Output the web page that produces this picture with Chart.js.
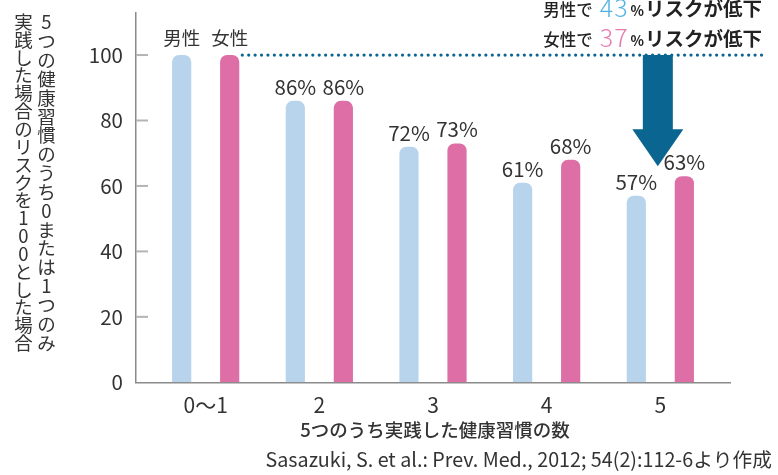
<!DOCTYPE html>
<html lang="ja">
<head>
<meta charset="utf-8">
<title>健康習慣の数とリスク</title>
<script src="https://cdn.jsdelivr.net/npm/chart.js@4/dist/chart.umd.min.js"></script>
<style>
  html, body { margin: 0; padding: 0; background: #fff; }
  #wrap { width: 778px; height: 475px; position: relative; }
</style>
</head>
<body>
<div id="wrap"><canvas id="myChart"></canvas></div>
<script>
/* chart data */
const categories = ['0〜1', '2', '3', '4', '5'];
const seriesNames = ['男性', '女性'];
const menValues = [100, 86, 72, 61, 57];
const womenValues = [100, 86, 73, 68, 63];
const yTicks = [0, 20, 40, 60, 80, 100];

/* texts */
const xTitle = '5つのうち実践した健康習慣の数';
const yTitleLines = ['5つの健康習慣のうち0または1つのみ', '実践した場合のリスクを100とした場合'];
const sourceText = 'Sasazuki, S. et al.: Prev. Med., 2012; 54(2):112-6より作成';

/* arrow goes from the baseline level (100) down to this value */
const ARROW_TIP = 66;

const FONT = '"Noto Sans CJK JP", "Noto Sans", sans-serif';
const TEXT = '#333333';
const MEN_COLOR = '#b8d4ed';
const WOMEN_COLOR = '#dd6fa6';
const ARROW_COLOR = '#0b6591';

function font(size, weight) {
  return (weight || 400) + ' ' + size + 'px ' + FONT;
}

/* short gray ticks drawn inside the plot, on the y axis */
const innerTicks = {
  id: 'innerTicks',
  beforeDatasetsDraw(chart) {
    const c = chart.ctx;
    const y = chart.scales.y;
    const left = chart.chartArea.left;
    c.save();
    c.strokeStyle = '#b4b4b4';
    c.lineWidth = 2;
    yTicks.forEach(function(v) {
      if (v === 0) return;
      const py = y.getPixelForValue(v);
      c.beginPath();
      c.moveTo(left, py);
      c.lineTo(left + 12, py);
      c.stroke();
    });
    c.restore();
  }
};

/* value labels, dotted reference line, arrow and all the extra texts */
const extras = {
  id: 'extras',
  afterDatasetsDraw(chart) {
    const c = chart.ctx;
    const xs = chart.scales.x;
    const ys = chart.scales.y;
    const lists = [menValues, womenValues];
    c.save();
    c.fillStyle = TEXT;
    c.textAlign = 'center';
    c.textBaseline = 'alphabetic';

    /* labels over bars: series name on the first group, percent elsewhere */
    lists.forEach(function(list, d) {
      const meta = chart.getDatasetMeta(d);
      list.forEach(function(v, i) {
        const bar = meta.data[i];
        if (i === 0) {
          c.font = font(18.5);
          c.fillText(seriesNames[d], bar.x, bar.y - 10);
        } else {
          c.font = font(20.5);
          c.fillText(v + '%', bar.x, bar.y - 6);
        }
      });
    });

    /* dotted line at 100 */
    const firstWomen = chart.getDatasetMeta(1).data[0];
    const y100 = ys.getPixelForValue(100);
    c.strokeStyle = ARROW_COLOR;
    c.lineWidth = 3.2;
    c.lineCap = 'round';
    c.setLineDash([0.01, 6.4]);
    c.beginPath();
    c.moveTo(firstWomen.x + firstWomen.width / 2 + 3, y100);
    c.lineTo(762, y100);
    c.stroke();
    c.setLineDash([]);

    /* arrow down to the last group */
    const ax = xs.getPixelForValue(categories.length - 1) - 2.5;
    const tipY = ys.getPixelForValue(ARROW_TIP);
    const headY = tipY - 37;
    c.fillStyle = ARROW_COLOR;
    c.beginPath();
    c.moveTo(ax - 15, y100);
    c.lineTo(ax + 15, y100);
    c.lineTo(ax + 15, headY);
    c.lineTo(ax + 25.5, headY);
    c.lineTo(ax, tipY);
    c.lineTo(ax - 25.5, headY);
    c.lineTo(ax - 15, headY);
    c.closePath();
    c.fill();

    /* risk drop notes, built right to left */
    const last = categories.length - 1;
    const notes = [
      {who: '男性で', drop: 100 - menValues[last], color: '#4fb2e4', y: 15.5},
      {who: '女性で', drop: 100 - womenValues[last], color: '#e77aae', y: 46}
    ];
    c.textAlign = 'right';
    notes.forEach(function(n) {
      let x = 762;
      c.fillStyle = '#222';
      c.font = font(19.5, 700);
      c.fillText('リスクが低下', x, n.y);
      x -= c.measureText('リスクが低下').width + 1;
      c.font = font(14, 700);
      c.fillText('%', x, n.y);
      x -= c.measureText('%').width + 2;
      c.fillStyle = n.color;
      c.font = font(25, 300);
      c.letterSpacing = '1px';
      c.fillText(String(n.drop), x, n.y + 1);
      x -= c.measureText(String(n.drop)).width + 7;
      c.letterSpacing = '0px';
      c.fillStyle = '#222';
      c.font = font(16.5, 500);
      c.fillText(n.who, x, n.y);
    });

    /* x axis title and source */
    c.fillStyle = TEXT;
    c.textAlign = 'center';
    c.font = font(18.5, 500);
    c.fillText(xTitle, (chart.chartArea.left + chart.chartArea.right) / 2 + 2, 437);
    c.textAlign = 'right';
    c.font = font(17);
    const srcSize = 17 * (772 - 265) / c.measureText(sourceText).width;
    c.font = font(srcSize);
    c.fillText(sourceText, 772, 467);

    /* vertical y axis title, two columns written top to bottom */
    c.textAlign = 'center';
    c.textBaseline = 'middle';
    c.font = font(18.5);
    const cols = [46.5, 23.5];
    yTitleLines.forEach(function(line, k) {
      const chars = Array.from(line);
      const step = (352 - 13) / chars.length;
      chars.forEach(function(ch, i) {
        c.fillText(ch, cols[k], 13 + step * (i + 0.5));
      });
    });
    c.restore();
  }
};

const ctx = document.getElementById('myChart').getContext('2d');
const chart = new Chart(ctx, {
  type: 'bar',
  data: {
    datasets: [
      {
        label: seriesNames[0],
        data: menValues.map(function(v, i) { return {x: i, y: v}; }),
        backgroundColor: MEN_COLOR,
      },
      {
        label: seriesNames[1],
        data: womenValues.map(function(v, i) { return {x: i, y: v}; }),
        backgroundColor: WOMEN_COLOR,
      }
    ],
  },
  options: {
    responsive: true,
    maintainAspectRatio: false,
    animation: false,
    layout: {padding: {top: 12.5, right: 48, left: 0, bottom: 0}},
    datasets: {
      bar: {
        categoryPercentage: 0.845,
        barPercentage: 0.4,
        borderRadius: {topLeft: 7, topRight: 7, bottomLeft: 0, bottomRight: 0},
        borderSkipped: 'start',
      },
    },
    plugins: {
      legend: {display: false},
      tooltip: {enabled: false},
    },
    scales: {
      x: {
        type: 'linear',
        min: -0.613,
        max: 4.613,
        offset: false,
        grid: {display: false},
        border: {display: true, color: '#8a8a8a', width: 1.5},
        ticks: {
          font: {family: FONT, size: 21},
          color: TEXT,
          padding: 2,
          maxRotation: 0,
          autoSkip: false,
          callback: function(v) { return categories[v] !== undefined ? categories[v] : ''; },
        },
        afterBuildTicks: function(s) { s.ticks = categories.map(function(c, i) { return {value: i}; }); },
        afterFit: function(s) { s.height = 92.7; s.paddingLeft = 0; s.paddingRight = 0; },
      },
      y: {
        min: 0,
        max: 113,
        grid: {display: false},
        border: {display: true, color: '#8a8a8a', width: 1.5},
        ticks: {
          font: {family: FONT, size: 20.5},
          color: TEXT,
          padding: 5,
        },
        afterBuildTicks: function(s) { s.ticks = yTicks.map(function(v) { return {value: v}; }); },
        afterFit: function(s) { s.width = 136; s.paddingTop = 0; s.paddingBottom = 0; },
      },
    },
  },
  plugins: [innerTicks, extras],
});
</script>
</body>
</html>
